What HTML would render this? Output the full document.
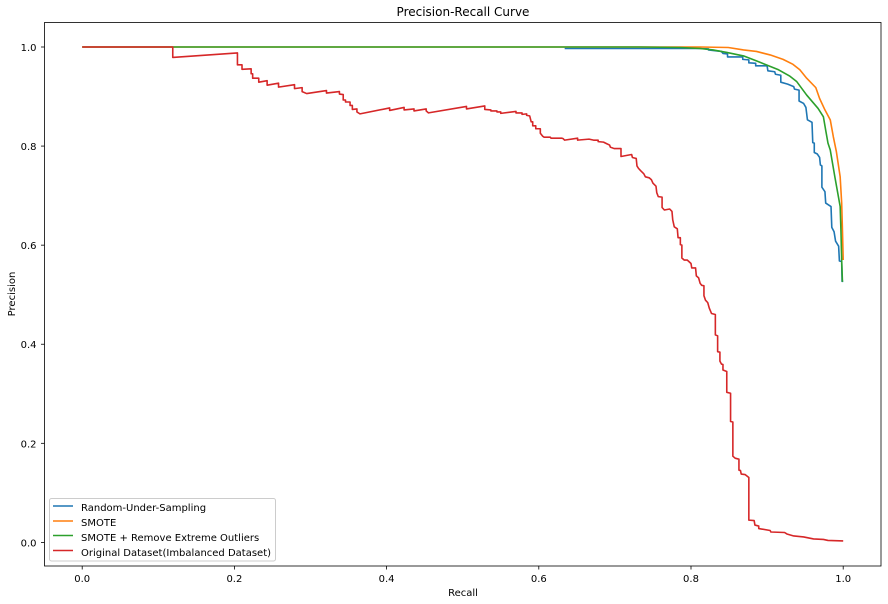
<!DOCTYPE html>
<html lang="en">
<head>
<meta charset="utf-8">
<title>Precision-Recall Curve</title>
<style>
html,body{margin:0;padding:0;background:#fff;}
svg{display:block;font-family:"DejaVu Sans","Liberation Sans",sans-serif;}
text{fill:#000;font-size:10px;}
</style>
</head>
<body>
<svg id="chart" width="888" height="604" viewBox="0 0 888 604" xmlns="http://www.w3.org/2000/svg">
  <rect x="0" y="0" width="888" height="604" fill="#ffffff"/>
  <text x="463" y="16" text-anchor="middle" style="font-size:12px">Precision-Recall Curve</text>
  <text x="463" y="596" text-anchor="middle">Recall</text>
  <text transform="translate(15,294) rotate(-90)" text-anchor="middle">Precision</text>
  <g id="series" fill="none" stroke-width="1.6" stroke-linejoin="round"></g>
  <g id="ticks"></g>
  <rect x="44.5" y="22.5" width="836.5" height="543.5" fill="none" stroke="#000" stroke-width="0.8"/>
  <g>
    <rect x="49.5" y="498.5" width="226" height="62.5" rx="2" ry="2" fill="#fff" fill-opacity="0.8" stroke="#ccc" stroke-width="1"/>
    <g>
      <line x1="53" x2="73" y1="506" y2="506" stroke="#1f77b4" stroke-width="1.5"/>
      <text x="81" y="511">Random-Under-Sampling</text>
    </g>
    <g>
      <line x1="53" x2="73" y1="521" y2="521" stroke="#ff7f0e" stroke-width="1.5"/>
      <text x="81" y="526">SMOTE</text>
    </g>
    <g>
      <line x1="53" x2="73" y1="535.5" y2="535.5" stroke="#2ca02c" stroke-width="1.5"/>
      <text x="81" y="541">SMOTE + Remove Extreme Outliers</text>
    </g>
    <g>
      <line x1="53" x2="73" y1="550.5" y2="550.5" stroke="#d62728" stroke-width="1.5"/>
      <text x="81" y="556">Original Dataset(Imbalanced Dataset)</text>
    </g>
  </g>
</svg>
<script>
const xTickValues = [0, 0.2, 0.4, 0.6, 0.8, 1];
const yTickValues = [0, 0.2, 0.4, 0.6, 0.8, 1];
const xTickLabels = ["0.0", "0.2", "0.4", "0.6", "0.8", "1.0"];
const yTickLabels = ["0.0", "0.2", "0.4", "0.6", "0.8", "1.0"];

const underRecall = [0.634,0.812,0.823,0.823,0.840,0.842,0.848,0.848,0.868,0.868,0.876,0.876,0.885,0.885,0.900,0.901,0.910,0.911,0.918,0.918,0.927,0.935,0.936,0.942,0.942,0.948,0.951,0.953,0.959,0.960,0.962,0.962,0.966,0.969,0.970,0.972,0.972,0.976,0.977,0.984,0.985,0.988,0.990,0.994,0.995,0.998,0.9985,1.000];
const underPrecision = [0.997,0.997,0.996,0.994,0.991,0.987,0.986,0.980,0.980,0.975,0.974,0.968,0.967,0.962,0.962,0.952,0.950,0.945,0.943,0.929,0.925,0.920,0.915,0.913,0.891,0.886,0.878,0.853,0.848,0.807,0.806,0.787,0.784,0.777,0.762,0.760,0.717,0.708,0.685,0.678,0.636,0.627,0.608,0.598,0.568,0.567,0.527,0.527];

const smoteRecall = [0,0.812,0.849,0.869,0.886,0.904,0.921,0.934,0.943,0.952,0.964,0.969,0.976,0.983,0.987,0.991,0.996,0.998,0.999,1.000];
const smotePrecision = [1,1,0.999,0.994,0.991,0.984,0.975,0.965,0.954,0.937,0.918,0.896,0.873,0.853,0.819,0.789,0.738,0.685,0.631,0.570];

const cleanRecall = [0,0.733,0.786,0.812,0.829,0.847,0.869,0.886,0.899,0.915,0.930,0.939,0.952,0.967,0.974,0.977,0.980,0.983,0.989,0.996,0.997,0.998,0.999];
const cleanPrecision = [1,1,0.999,0.997,0.994,0.989,0.982,0.972,0.964,0.954,0.941,0.930,0.903,0.876,0.859,0.832,0.806,0.792,0.738,0.678,0.631,0.570,0.526];

const originalRecall = [0,0.119,0.119,0.204,0.204,0.210,0.210,0.222,0.222,0.224,0.224,0.232,0.232,0.243,0.243,0.258,0.258,0.279,0.279,0.289,0.289,0.295,0.321,0.321,0.338,0.338,0.343,0.343,0.346,0.346,0.352,0.352,0.355,0.355,0.361,0.361,0.365,0.404,0.404,0.423,0.423,0.436,0.436,0.452,0.452,0.455,0.505,0.505,0.529,0.529,0.537,0.537,0.545,0.545,0.550,0.550,0.570,0.570,0.578,0.578,0.584,0.584,0.588,0.590,0.592,0.592,0.596,0.596,0.602,0.602,0.605,0.607,0.615,0.616,0.630,0.632,0.634,0.651,0.651,0.666,0.672,0.678,0.678,0.685,0.689,0.693,0.694,0.699,0.708,0.708,0.722,0.723,0.728,0.729,0.731,0.734,0.738,0.740,0.745,0.748,0.750,0.754,0.755,0.757,0.762,0.762,0.765,0.772,0.775,0.776,0.778,0.782,0.783,0.786,0.786,0.788,0.788,0.791,0.795,0.800,0.801,0.806,0.807,0.810,0.812,0.814,0.817,0.817,0.819,0.822,0.824,0.827,0.832,0.832,0.835,0.835,0.838,0.838,0.840,0.842,0.842,0.847,0.847,0.852,0.852,0.855,0.855,0.858,0.863,0.863,0.865,0.866,0.871,0.876,0.876,0.883,0.884,0.889,0.889,0.904,0.905,0.923,0.926,0.935,0.948,0.961,0.974,0.980,1.000];
const originalPrecision = [1,1,0.979,0.988,0.964,0.964,0.955,0.956,0.946,0.946,0.937,0.937,0.929,0.932,0.923,0.927,0.919,0.924,0.916,0.918,0.910,0.906,0.912,0.907,0.910,0.905,0.904,0.893,0.893,0.889,0.889,0.882,0.882,0.874,0.875,0.869,0.865,0.877,0.872,0.878,0.873,0.875,0.871,0.875,0.871,0.867,0.880,0.875,0.881,0.874,0.873,0.871,0.871,0.869,0.869,0.866,0.870,0.867,0.867,0.864,0.865,0.862,0.861,0.849,0.849,0.841,0.841,0.835,0.835,0.826,0.820,0.818,0.818,0.816,0.816,0.815,0.812,0.816,0.812,0.814,0.812,0.812,0.809,0.808,0.805,0.802,0.798,0.795,0.795,0.779,0.783,0.777,0.775,0.760,0.755,0.750,0.744,0.738,0.736,0.732,0.725,0.719,0.706,0.698,0.697,0.676,0.671,0.673,0.668,0.651,0.637,0.633,0.615,0.615,0.601,0.600,0.574,0.570,0.570,0.563,0.554,0.554,0.538,0.534,0.523,0.519,0.518,0.498,0.489,0.484,0.473,0.462,0.460,0.419,0.417,0.385,0.384,0.366,0.360,0.359,0.348,0.345,0.303,0.301,0.244,0.243,0.174,0.170,0.168,0.146,0.145,0.138,0.137,0.131,0.045,0.044,0.035,0.033,0.028,0.024,0.021,0.020,0.017,0.013,0.011,0.007,0.006,0.004,0.003];

const SVG_NS = "http://www.w3.org/2000/svg";

function xScale(v) { return 82.2 + v * 761; }
function yScale(v) { return 542.4 - v * 495.4; }

function drawSeries(recall, precision, color, name) {
  const pts = recall.map(function (r, i) {
    return xScale(r).toFixed(2) + "," + yScale(precision[i]).toFixed(2);
  }).join(" ");
  const line = document.createElementNS(SVG_NS, "polyline");
  line.setAttribute("points", pts);
  line.setAttribute("stroke", color);
  
  
  document.getElementById("series").appendChild(line);
}

drawSeries(underRecall, underPrecision, "#1f77b4", "line-random-under-sampling");
drawSeries(smoteRecall, smotePrecision, "#ff7f0e", "line-smote");
drawSeries(cleanRecall, cleanPrecision, "#2ca02c", "line-smote-remove-outliers");
drawSeries(originalRecall, originalPrecision, "#d62728", "line-original-dataset");

const tickLayer = document.getElementById("ticks");

xTickValues.forEach(function (v, i) {
  const x = xScale(v);
  const mark = document.createElementNS(SVG_NS, "line");
  mark.setAttribute("x1", x);
  mark.setAttribute("x2", x);
  mark.setAttribute("y1", 566);
  mark.setAttribute("y2", 569.5);
  mark.setAttribute("stroke", "#000");
  mark.setAttribute("stroke-width", "0.8");
  
  
  tickLayer.appendChild(mark);
  const label = document.createElementNS(SVG_NS, "text");
  label.setAttribute("x", x);
  label.setAttribute("y", 582);
  label.setAttribute("text-anchor", "middle");
  label.textContent = xTickLabels[i];
  
  
  tickLayer.appendChild(label);
});

yTickValues.forEach(function (v, i) {
  const y = yScale(v);
  const mark = document.createElementNS(SVG_NS, "line");
  mark.setAttribute("x1", 41);
  mark.setAttribute("x2", 44.5);
  mark.setAttribute("y1", y);
  mark.setAttribute("y2", y);
  mark.setAttribute("stroke", "#000");
  mark.setAttribute("stroke-width", "0.8");
  
  
  tickLayer.appendChild(mark);
  const label = document.createElementNS(SVG_NS, "text");
  label.setAttribute("x", 36.5);
  label.setAttribute("y", y + 4);
  label.setAttribute("text-anchor", "end");
  label.textContent = yTickLabels[i];
  
  
  tickLayer.appendChild(label);
});
</script>
</body>
</html>
